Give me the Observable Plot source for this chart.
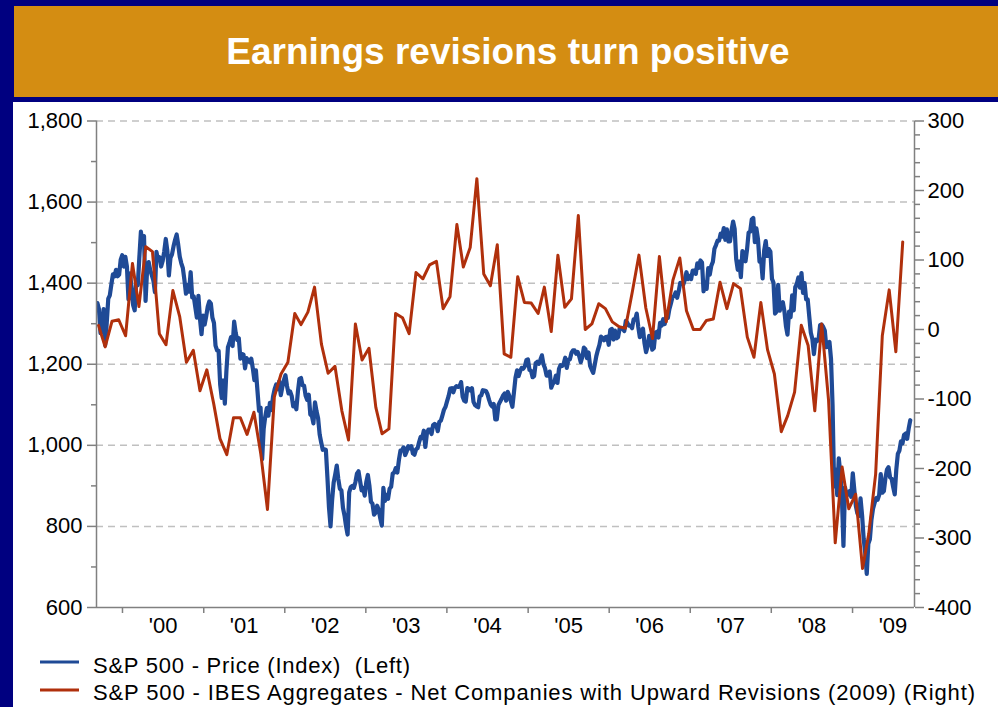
<!DOCTYPE html>
<html><head><meta charset="utf-8">
<script src="https://cdn.jsdelivr.net/npm/d3@7"></script>
<script src="https://cdn.jsdelivr.net/npm/@observablehq/plot@0.6"></script>
<style>
html,body{margin:0;padding:0;}
body{width:998px;height:707px;background:#000080;position:relative;overflow:hidden;font-family:"Liberation Sans",Arial,sans-serif;}
#hdr{position:absolute;left:14px;top:6px;width:980px;padding-left:4px;height:91px;background:#D48D12;color:#fff;font-weight:bold;font-size:37px;line-height:91px;text-align:center;}
#panel{position:absolute;left:13px;top:102px;width:985px;height:605px;background:#fff;}
#chart{position:absolute;left:0;top:102px;}
#legend{position:absolute;left:0;top:647px;}
</style></head><body>
<div id="hdr">Earnings revisions turn positive</div>
<div id="panel"></div>
<div id="chart"></div>
<svg id="legend" width="998" height="60" font-family="Liberation Sans, Arial, sans-serif">
  <line x1="40" x2="79" y1="15" y2="15" stroke="#1F4A96" stroke-width="3"/>
  <text x="93" y="26" font-size="22" fill="#000" style="white-space:pre" textLength="317" lengthAdjust="spacing">S&amp;P 500 - Price (Index)  (Left)</text>
  <line x1="40" x2="79" y1="43" y2="43" stroke="#B0300C" stroke-width="3"/>
  <text x="93" y="53" font-size="22" fill="#000" style="white-space:pre" textLength="882" lengthAdjust="spacing">S&amp;P 500 - IBES Aggregates - Net Companies with Upward Revisions (2009) (Right)</text>
</svg>
<script>
// S&P 500 price, weekly (Friday) closes, one array per year
const firstFridays = ["1999-09-03","2000-01-07","2001-01-05","2002-01-04","2003-01-03","2004-01-02","2005-01-07","2006-01-06","2007-01-05","2008-01-04","2009-01-02"];
const price1999 = [1335,1351,1336,1277,1282,1336,1247,1301,1362,1370,1397,1422,1417,1433,1417,1421,1458,1469];
const price2000 = [1441,1465,1441,1360,1424,1387,1346,1333,1409,1395,1464,1527,1499,1516,1356,1434,1452,1432,1420,1407,1378,1477,1457,1464,1441,1455,1478,1509,1480,1419,1462,1471,1491,1507,1520,1495,1465,1449,1437,1408,1374,1396,1379,1427,1365,1367,1341,1315,1369,1312,1274,1320];
const price2001 = [1298,1318,1342,1355,1350,1315,1302,1246,1234,1233,1150,1117,1160,1103,1183,1242,1253,1267,1245,1305,1277,1260,1264,1214,1225,1224,1190,1215,1210,1205,1214,1190,1161,1185,1134,1085,1093,966,1041,1071,1092,1073,1105,1087,1120,1138,1150,1139,1158,1124,1144,1161];
const price2002 = [1173,1146,1128,1133,1122,1096,1104,1089,1132,1164,1166,1148,1147,1122,1112,1125,1076,1073,1054,1106,1084,1067,1027,1007,989,990,989,921,847,800,864,908,928,950,917,893,889,846,827,800,780,884,897,900,895,909,930,936,912,889,895,876];
const price2003 = [909,927,901,861,856,829,834,851,841,820,802,895,863,878,868,893,898,930,933,944,933,964,987,988,995,976,985,998,993,998,980,977,990,993,1008,1021,1018,1036,996,1029,1039,1039,1028,1050,1053,1050,1035,1058,1061,1074,1088,1095];
const price2004 = [1109,1122,1140,1141,1131,1142,1146,1144,1145,1156,1120,1110,1108,1141,1139,1135,1141,1107,1099,1096,1094,1121,1123,1136,1135,1134,1126,1112,1101,1096,1102,1064,1064,1099,1107,1114,1123,1128,1110,1132,1122,1109,1095,1130,1167,1185,1171,1183,1191,1189,1195,1210,1212];
const price2005 = [1186,1184,1168,1171,1203,1206,1201,1211,1222,1200,1190,1172,1172,1182,1142,1152,1156,1172,1154,1189,1198,1196,1201,1216,1191,1211,1212,1228,1234,1234,1226,1230,1220,1205,1218,1241,1237,1215,1229,1196,1187,1179,1199,1220,1235,1248,1268,1265,1259,1267,1268,1248];
const price2006 = [1285,1287,1261,1283,1264,1267,1288,1289,1287,1282,1307,1302,1295,1295,1289,1311,1310,1325,1292,1267,1280,1288,1252,1230,1244,1270,1265,1236,1240,1278,1280,1266,1302,1295,1311,1299,1320,1314,1336,1350,1366,1368,1377,1364,1380,1401,1400,1397,1409,1427,1410,1418];
const price2007 = [1410,1431,1431,1423,1449,1438,1456,1451,1380,1402,1386,1437,1421,1443,1453,1485,1494,1505,1505,1522,1515,1536,1507,1533,1503,1503,1530,1552,1534,1459,1433,1453,1415,1479,1474,1454,1484,1525,1527,1557,1561,1501,1535,1509,1453,1458,1412,1481,1504,1467,1484,1478];
const price2008 = [1411,1401,1325,1330,1396,1332,1349,1353,1331,1294,1273,1330,1316,1370,1333,1390,1398,1414,1389,1425,1376,1400,1360,1360,1318,1278,1262,1225,1261,1257,1261,1297,1298,1292,1283,1242,1252,1255,1213,1099,899,940,877,968,930,873,752,896,876,879,887,873];
const price2009 = [931,890,850,832,826,869,827,770,735,683,757,768,816,843,857,870,866,878,929,883,887,919,940,946,921,918,897,879,940,979,987,1010,1005,1026,1029,1016,1042,1062];

// Net companies with upward revisions, monthly from Sep 1999
const revisionStart = [1999, 8];
const netRevisions = [6,-25,12,14,-9,95,33,119,112,-6,-22,56,18,-47,-30,-88,-58,-107,-157,-180,
  -127,-127,-151,-119,-179,-259,-97,-64,-47,23,7,25,61,-21,-63,-53,-117,-159,8,-44,
  -27,-112,-150,-143,23,17,-6,82,73,93,98,30,47,151,90,118,217,80,63,122,
  -35,-40,76,39,38,23,61,-3,107,32,44,164,0,8,37,30,11,4,2,54,
  107,31,-13,105,11,71,103,27,0,0,13,15,68,30,66,59,-11,-40,39,-29,
  -64,-147,-124,-90,6,-23,-117,8,-102,-307,-198,-258,-237,-344,-294,-208,-9,57,-32,126];

const leftTicks = [600,800,1000,1200,1400,1600,1800];
const leftMinor = [700,900,1100,1300,1500,1700];
const rightTicks = [-400,-300,-200,-100,0,100,200,300];
const rightMinor = d3.range(-400, 301, 20).filter(v => v % 100 !== 0);
const yearLabels = ["'00","'01","'02","'03","'04","'05","'06","'07","'08","'09"];

const priceYears = [price1999,price2000,price2001,price2002,price2003,price2004,price2005,price2006,price2007,price2008,price2009];
const priceData = [];
priceYears.forEach((arr, i) => {
  const start = new Date(firstFridays[i] + "T00:00:00Z");
  arr.forEach((v, j) => priceData.push({date: new Date(+start + j * 7 * 864e5), value: v}));
});
const revData = netRevisions.map((v, k) => ({date: new Date(Date.UTC(revisionStart[0], revisionStart[1] + k, 15)), value: v}));

const toLeft = v => 600 + (v + 400) * 1200 / 700;
const fromLeft = y => (y - 600) * 700 / 1200 - 400;

const xDomain = [new Date(Date.UTC(1999, 8, 6)), new Date(Date.UTC(2009, 9, 7))];
const yearTicks = d3.range(2000, 2010).map(y => new Date(Date.UTC(y, 0, 1)));
const yearMids = d3.range(2000, 2010).map(y => new Date(Date.UTC(y, 6, 2)));
const axisGray = "#808080";

const chart = Plot.plot({
  width: 998, height: 545,
  marginLeft: 96, marginRight: 84, marginTop: 18.5, marginBottom: 40,
  style: {background: "transparent", fontFamily: "Liberation Sans, Arial, sans-serif", fontSize: "22px", color: "#000", overflow: "visible", maxWidth: "none"},
  x: {type: "utc", domain: xDomain, axis: null},
  y: {domain: [600, 1800], axis: null},
  marks: [
    Plot.gridY(leftTicks.filter(d => d > 600), {stroke: "#c0c0c0", strokeOpacity: 1, strokeWidth: 1.5, strokeDasharray: "7,5"}),
    Plot.line(priceData, {x: "date", y: "value", stroke: "#1F4A96", strokeWidth: 4.2, strokeLinejoin: "round", clip: true}),
    Plot.line(revData, {x: "date", y: d => toLeft(d.value), stroke: "#B0300C", strokeWidth: 3, strokeLinejoin: "round", clip: true}),
    Plot.ruleX(xDomain, {stroke: axisGray, strokeWidth: 1.5}),
    Plot.ruleY([600], {stroke: axisGray, strokeWidth: 1.5}),
    Plot.axisY(leftTicks, {anchor: "left", tickSize: 9, tickPadding: 5, stroke: axisGray, strokeWidth: 1.5, fill: "#000", fontSize: 22, tickFormat: d3.format(","), label: null}),
    Plot.axisY(leftMinor, {anchor: "left", tickSize: 5, stroke: axisGray, strokeWidth: 1.5, tickFormat: () => "", label: null}),
    Plot.axisY(rightTicks.map(toLeft), {anchor: "right", tickSize: 9, tickPadding: 4, stroke: axisGray, strokeWidth: 1.5, fill: "#000", fontSize: 22, tickFormat: d => String(Math.round(fromLeft(d))), label: null}),
    Plot.axisY(rightMinor.map(toLeft), {anchor: "right", tickSize: 5, stroke: axisGray, strokeWidth: 1.5, tickFormat: () => "", label: null}),
    Plot.axisX(yearTicks, {anchor: "bottom", tickSize: 6, stroke: axisGray, strokeWidth: 1.5, tickFormat: () => "", label: null}),
    Plot.text(yearMids, {x: d => d, text: (d, i) => yearLabels[i], frameAnchor: "bottom", dy: 25, fontSize: 22, fill: "#000"})
  ]
});
document.getElementById("chart").appendChild(chart);
</script>
</body></html>
